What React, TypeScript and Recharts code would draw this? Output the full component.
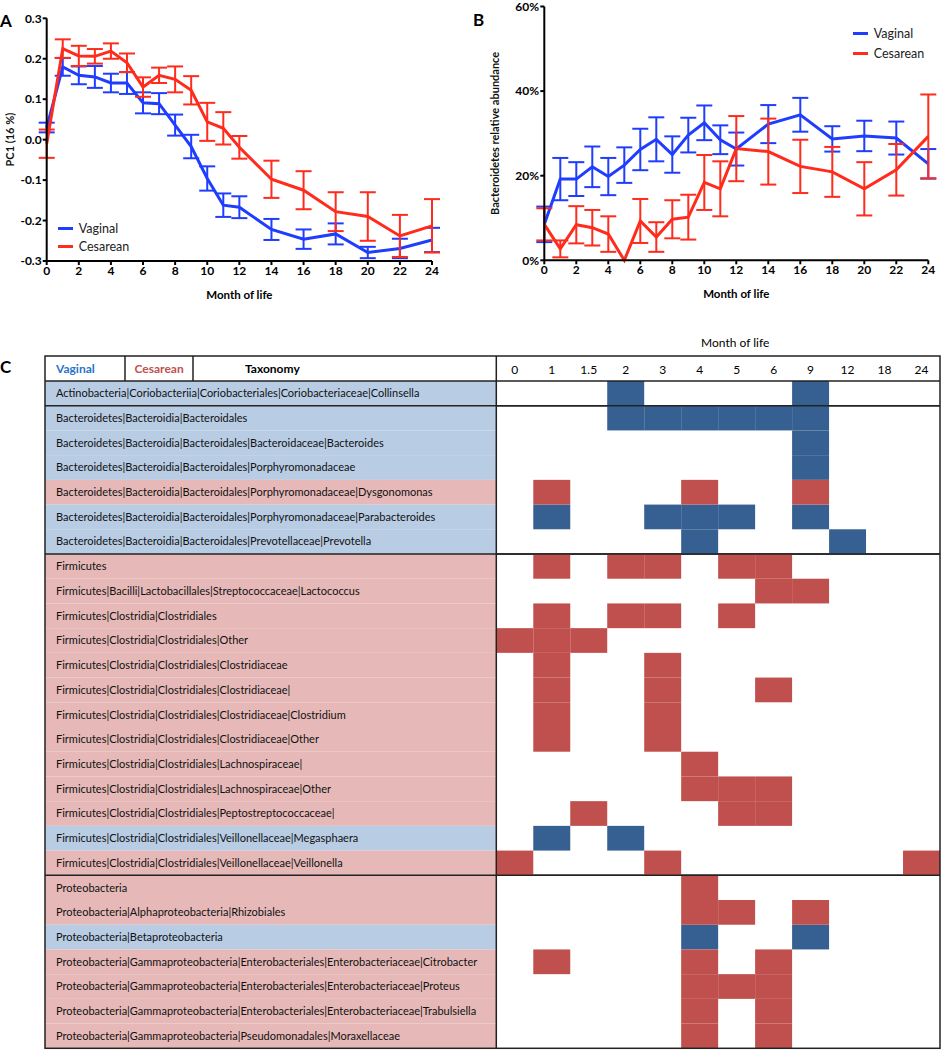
import {
  LineChart,
  Line,
  XAxis,
  YAxis,
  ErrorBar,
  Legend,
  ScatterChart,
  Scatter,
  ReferenceLine,
} from "recharts";

const FONT = "Lato, 'Open Sans', sans-serif";
const BLUE = "#1f3dff";
const RED = "#ff2b1c";
const CELL_BLUE = "#376092";
const CELL_RED = "#c0504d";
const ROW_BLUE = "#b8cce4";
const ROW_RED = "#e6b9b8";

/** 월령 (A, B 공통 x값) */
const months = [0, 1, 2, 3, 4, 5, 6, 7, 8, 9, 10, 11, 12, 14, 16, 18, 20, 22, 24];
const monthTicks = [0, 2, 4, 6, 8, 10, 12, 14, 16, 18, 20, 22, 24];
const seriesOrder = ["Vaginal", "Cesarean"];

/** A: PC1 평균 / 표준오차 */
const pcVaginal = [0.03, 0.18, 0.159, 0.155, 0.14, 0.14, 0.091, 0.089, 0.036, -0.017, -0.096, -0.162, -0.167, -0.222, -0.246, -0.233, -0.279, -0.269, -0.248];
const pcVaginalErr = [0.012, 0.022, 0.022, 0.027, 0.023, 0.027, 0.026, 0.026, 0.026, 0.029, 0.03, 0.029, 0.027, 0.026, 0.024, 0.026, 0.014, 0.024, 0.03];
const pcCesarean = [-0.01, 0.225, 0.207, 0.206, 0.219, 0.19, 0.13, 0.159, 0.149, 0.122, 0.044, 0.028, -0.019, -0.098, -0.125, -0.178, -0.19, -0.238, -0.213];
const pcCesareanErr = [0.035, 0.023, 0.025, 0.018, 0.019, 0.023, 0.024, 0.019, 0.032, 0.035, 0.047, 0.04, 0.028, 0.046, 0.047, 0.048, 0.06, 0.052, 0.066];
const pcTicks = [-0.3, -0.2, -0.1, 0, 0.1, 0.2, 0.3];

/** B: Bacteroidetes 상대 풍부도 (%) */
const bacVaginal = [8.5, 19.2, 19.2, 22.1, 19.8, 22.5, 26.2, 28.6, 25.0, 29.6, 32.5, 28.5, 26.3, 32.2, 34.4, 28.7, 29.4, 28.9, 22.8];
const bacVaginalErr = [4.2, 5.0, 4.0, 4.8, 4.4, 4.2, 4.9, 5.2, 4.3, 4.1, 4.1, 3.4, 3.9, 4.5, 4.0, 3.0, 3.6, 3.9, 3.5];
const bacCesarean = [8.5, 2.7, 8.4, 7.7, 6.2, 0, 9.3, 5.5, 9.7, 10.2, 18.4, 16.9, 26.4, 25.7, 22.2, 20.9, 16.9, 21.4, 29.3];
const bacCesareanErr = [3.8, 2.0, 4.4, 4.2, 4.2, 0, 5.2, 3.5, 4.5, 5.3, 6.5, 6.5, 7.7, 7.8, 6.3, 5.9, 6.3, 6.1, 9.9];
const bacTicks = [0, 20, 40, 60];

/** C: 히트맵 */
const heatMonths = ["0", "1", "1.5", "2", "3", "4", "5", "6", "9", "12", "18", "24"];
const taxa = [
  "Actinobacteria|Coriobacteriia|Coriobacteriales|Coriobacteriaceae|Collinsella",
  "Bacteroidetes|Bacteroidia|Bacteroidales",
  "Bacteroidetes|Bacteroidia|Bacteroidales|Bacteroidaceae|Bacteroides",
  "Bacteroidetes|Bacteroidia|Bacteroidales|Porphyromonadaceae",
  "Bacteroidetes|Bacteroidia|Bacteroidales|Porphyromonadaceae|Dysgonomonas",
  "Bacteroidetes|Bacteroidia|Bacteroidales|Porphyromonadaceae|Parabacteroides",
  "Bacteroidetes|Bacteroidia|Bacteroidales|Prevotellaceae|Prevotella",
  "Firmicutes",
  "Firmicutes|Bacilli|Lactobacillales|Streptococcaceae|Lactococcus",
  "Firmicutes|Clostridia|Clostridiales",
  "Firmicutes|Clostridia|Clostridiales|Other",
  "Firmicutes|Clostridia|Clostridiales|Clostridiaceae",
  "Firmicutes|Clostridia|Clostridiales|Clostridiaceae|",
  "Firmicutes|Clostridia|Clostridiales|Clostridiaceae|Clostridium",
  "Firmicutes|Clostridia|Clostridiales|Clostridiaceae|Other",
  "Firmicutes|Clostridia|Clostridiales|Lachnospiraceae|",
  "Firmicutes|Clostridia|Clostridiales|Lachnospiraceae|Other",
  "Firmicutes|Clostridia|Clostridiales|Peptostreptococcaceae|",
  "Firmicutes|Clostridia|Clostridiales|Veillonellaceae|Megasphaera",
  "Firmicutes|Clostridia|Clostridiales|Veillonellaceae|Veillonella",
  "Proteobacteria",
  "Proteobacteria|Alphaproteobacteria|Rhizobiales",
  "Proteobacteria|Betaproteobacteria",
  "Proteobacteria|Gammaproteobacteria|Enterobacteriales|Enterobacteriaceae|Citrobacter",
  "Proteobacteria|Gammaproteobacteria|Enterobacteriales|Enterobacteriaceae|Proteus",
  "Proteobacteria|Gammaproteobacteria|Enterobacteriales|Enterobacteriaceae|Trabulsiella",
  "Proteobacteria|Gammaproteobacteria|Pseudomonadales|Moraxellaceae",
];
/** V = 자연분만 쪽에 많음, C = 제왕절개 쪽에 많음 */
const taxaGroup = ["V", "V", "V", "V", "C", "V", "V", "C", "C", "C", "C", "C", "C", "C", "C", "C", "C", "C", "V", "C", "C", "C", "V", "C", "C", "C", "C"];
/** 행별로 유의한 월령 칸 (heatMonths 인덱스) */
const enrichedCols = [
  [3, 8],
  [3, 4, 5, 6, 7, 8],
  [8],
  [8],
  [1, 5, 8],
  [1, 4, 5, 6, 8],
  [5, 9],
  [1, 3, 4, 6, 7],
  [7, 8],
  [1, 3, 4, 6],
  [0, 1, 2],
  [1, 4],
  [1, 4, 7],
  [1, 4],
  [1, 4],
  [5],
  [5, 6, 7],
  [2, 6, 7],
  [1, 3],
  [0, 4, 11],
  [5],
  [5, 6, 8],
  [5, 8],
  [1, 5, 7],
  [5, 6, 7],
  [5, 7],
  [5, 7],
];
const groupStarts = [1, 7, 20];

const pcData = months.map((m, i) => ({
  month: m,
  vaginal: pcVaginal[i],
  vaginalErr: pcVaginalErr[i],
  cesarean: pcCesarean[i],
  cesareanErr: pcCesareanErr[i],
}));
const bacData = months.map((m, i) => ({
  month: m,
  vaginal: bacVaginal[i],
  vaginalErr: bacVaginalErr[i],
  cesarean: bacCesarean[i],
  cesareanErr: bacCesareanErr[i],
}));
const cellsOf = (g: string) =>
  enrichedCols.flatMap((cols, r) =>
    taxaGroup[r] === g ? cols.map((c) => ({ col: c + 0.5, row: r + 0.5 })) : []
  );
const vaginalCells = cellsOf("V");
const cesareanCells = cellsOf("C");

// 히트맵 레이아웃
const HM_TOP = 330;
const HM_H = 720;
const PLOT_TOP = 51;
const PLOT_BOTTOM = 1.7;
const PLOT_LEFT = 496.3;
const PLOT_RIGHT = 940;
const ROW_H = (HM_H - PLOT_TOP - PLOT_BOTTOM) / taxa.length;
const CELL_W = (PLOT_RIGHT - PLOT_LEFT) / heatMonths.length;

const tickStyle = { fill: "#000", fontSize: 12, fontWeight: 700, fontFamily: FONT };
const axisStyle = { stroke: "#000", strokeWidth: 2 };

/** 범례: Vaginal, Cesarean 순서 유지 */
const renderLegend = (rowH: number) => (props: any) => {
  const items = [...(props.payload || [])].sort(
    (a: any, b: any) => seriesOrder.indexOf(a.value) - seriesOrder.indexOf(b.value)
  );
  return (
    <div style={{ fontFamily: FONT, fontSize: 12.5, color: "#222" }}>
      {items.map((entry: any) => (
        <div key={entry.value} style={{ display: "flex", alignItems: "center", height: rowH }}>
          <span style={{ width: 15, height: 3, background: entry.color, marginRight: 6 }} />
          <span>{entry.value}</span>
        </div>
      ))}
    </div>
  );
};

const TaxonTick = (props: any) => {
  const { y, index } = props;
  const top = y - ROW_H / 2;
  return (
    <g>
      <rect x={45} y={top} width={PLOT_LEFT - 45} height={ROW_H} fill={taxaGroup[index] === "V" ? ROW_BLUE : ROW_RED} />
      <text x={56} y={y} dy="0.35em" fontSize={11} fontFamily={FONT} fill="#111">
        {taxa[index]}
      </text>
      {groupStarts.includes(index) && (
        <line x1={45} x2={PLOT_RIGHT} y1={top} y2={top} stroke="#222" strokeWidth={1.5} />
      )}
    </g>
  );
};

const CellRect = (props: any) => (
  <rect x={props.cx - CELL_W / 2} y={props.cy - ROW_H / 2} width={CELL_W} height={ROW_H} fill={props.fill} />
);

const panelLabel = (text: string, left: number, top: number) => (
  <div style={{ position: "absolute", left, top, fontFamily: FONT, fontWeight: 700, fontSize: 17, lineHeight: "17px" }}>
    {text}
  </div>
);

const App = () => {
  return (
    <div style={{ position: "absolute", left: 0, top: 0, width: 941, height: 1050, background: "#fff" }}>
      {/* A */}
      <div style={{ position: "absolute", left: 0, top: 0 }}>
        <LineChart width={440} height={320} data={pcData} margin={{ top: 18.3, right: 8, bottom: 29, left: 6.7 }}>
          <XAxis
            dataKey="month"
            type="number"
            domain={[0, 24]}
            ticks={monthTicks}
            interval={0}
            height={30}
            tick={tickStyle}
            tickSize={4}
            tickMargin={1}
            axisLine={axisStyle}
            tickLine={axisStyle}
            label={{ value: "Month of life", position: "bottom", offset: 0, style: { fontFamily: FONT, fontWeight: 700, fontSize: 11.5, fill: "#000" } }}
          />
          <YAxis
            type="number"
            domain={[-0.3, 0.3]}
            ticks={pcTicks}
            interval={0}
            width={40}
            tick={tickStyle}
            tickSize={4}
            tickMargin={1}
            axisLine={axisStyle}
            tickLine={axisStyle}
            tickFormatter={(v: number) => v.toFixed(1)}
            label={{ value: "PC1 (16 %)", angle: -90, position: "insideLeft", offset: 3, style: { textAnchor: "middle", fontFamily: FONT, fontWeight: 700, fontSize: 11, fill: "#111" } }}
          />
          <Legend
            layout="vertical"
            align="center"
            verticalAlign="middle"
            wrapperStyle={{ left: 57.7, top: 219.5, width: "auto" }}
            content={renderLegend(18.3)}
          />
          <Line type="linear" dataKey="vaginal" name="Vaginal" stroke={BLUE} strokeWidth={3} dot={false} isAnimationActive={false}>
            <ErrorBar dataKey="vaginalErr" width={8} stroke={BLUE} strokeWidth={2} direction="y" />
          </Line>
          <Line type="linear" dataKey="cesarean" name="Cesarean" stroke={RED} strokeWidth={3} dot={false} isAnimationActive={false}>
            <ErrorBar dataKey="cesareanErr" width={8} stroke={RED} strokeWidth={2} direction="y" />
          </Line>
        </LineChart>
      </div>

      {/* B */}
      <div style={{ position: "absolute", left: 440, top: 0 }}>
        <LineChart width={501} height={320} data={bacData} margin={{ top: 6.5, right: 12.7, bottom: 29.7, left: 44.3 }}>
          <XAxis
            dataKey="month"
            type="number"
            domain={[0, 24]}
            ticks={monthTicks}
            interval={0}
            height={30}
            tick={tickStyle}
            tickSize={4}
            tickMargin={1}
            axisLine={axisStyle}
            tickLine={axisStyle}
            label={{ value: "Month of life", position: "bottom", offset: 0, style: { fontFamily: FONT, fontWeight: 700, fontSize: 11.5, fill: "#000" } }}
          />
          <YAxis
            type="number"
            domain={[0, 60]}
            ticks={bacTicks}
            interval={0}
            width={60}
            tick={tickStyle}
            tickSize={4}
            tickMargin={1.3}
            axisLine={axisStyle}
            tickLine={axisStyle}
            tickFormatter={(v: number) => `${v}%`}
            label={{ value: "Bacteroidetes relative abundance", angle: -90, position: "insideLeft", offset: 10.7, style: { textAnchor: "middle", fontFamily: FONT, fontWeight: 700, fontSize: 11, fill: "#111" } }}
          />
          <Legend
            layout="vertical"
            align="center"
            verticalAlign="middle"
            wrapperStyle={{ left: 412.7, top: 24, width: "auto" }}
            content={renderLegend(19.4)}
          />
          <Line type="linear" dataKey="vaginal" name="Vaginal" stroke={BLUE} strokeWidth={3} dot={false} isAnimationActive={false}>
            <ErrorBar dataKey="vaginalErr" width={8} stroke={BLUE} strokeWidth={2} direction="y" />
          </Line>
          <Line type="linear" dataKey="cesarean" name="Cesarean" stroke={RED} strokeWidth={3} dot={false} isAnimationActive={false}>
            <ErrorBar dataKey="cesareanErr" width={8} stroke={RED} strokeWidth={2} direction="y" />
          </Line>
        </LineChart>
      </div>

      {/* C */}
      <div style={{ position: "absolute", left: 0, top: HM_TOP }}>
        <ScatterChart
          width={941}
          height={HM_H}
          margin={{ top: PLOT_TOP - 25, right: 941 - PLOT_RIGHT, bottom: PLOT_BOTTOM, left: 45 }}
        >
          <XAxis
            dataKey="col"
            type="number"
            orientation="top"
            domain={[0, heatMonths.length]}
            ticks={heatMonths.map((_, i) => i + 0.5)}
            interval={0}
            height={25}
            axisLine={false}
            tickLine={false}
            tickSize={6}
            tickMargin={1}
            tick={{ fill: "#000", fontSize: 12, fontFamily: FONT }}
            tickFormatter={(v: number) => heatMonths[Math.floor(v)]}
            label={{ value: "Month of life", position: "top", offset: 9, dx: 17, style: { fontFamily: FONT, fontSize: 12, fill: "#000" } }}
          />
          <YAxis
            dataKey="row"
            type="number"
            reversed
            domain={[0, taxa.length]}
            ticks={taxa.map((_, i) => i + 0.5)}
            interval={0}
            width={PLOT_LEFT - 45}
            axisLine={false}
            tickLine={false}
            tick={<TaxonTick />}
          />
          <Scatter name="Vaginal" data={vaginalCells} fill={CELL_BLUE} shape={<CellRect />} isAnimationActive={false} />
          <Scatter name="Cesarean" data={cesareanCells} fill={CELL_RED} shape={<CellRect />} isAnimationActive={false} />
          {groupStarts.map((g) => (
            <ReferenceLine key={g} y={g} stroke="#222" strokeWidth={1.5} />
          ))}
        </ScatterChart>
      </div>

      {/* 표 머리와 테두리 */}
      <svg width={941} height={1050} style={{ position: "absolute", left: 0, top: 0, pointerEvents: "none" }}>
        <rect x={45} y={356} width={PLOT_RIGHT - 45} height={HM_H + HM_TOP - PLOT_BOTTOM - 356} fill="none" stroke="#222" strokeWidth={1.5} />
        <line x1={45} x2={PLOT_RIGHT} y1={381} y2={381} stroke="#222" strokeWidth={1.5} />
        <line x1={125} x2={125} y1={356} y2={381} stroke="#222" strokeWidth={1.5} />
        <line x1={193} x2={193} y1={356} y2={381} stroke="#222" strokeWidth={1.5} />
        <line x1={PLOT_LEFT} x2={PLOT_LEFT} y1={356} y2={HM_H + HM_TOP - PLOT_BOTTOM} stroke="#222" strokeWidth={1.5} />
        <text x={56} y={368.5} dy="0.35em" fontFamily={FONT} fontWeight={700} fontSize={12} fill="#2a73c8">Vaginal</text>
        <text x={134.5} y={368.5} dy="0.35em" fontFamily={FONT} fontWeight={700} fontSize={12} fill={CELL_RED}>Cesarean</text>
        <text x={245} y={368.5} dy="0.35em" fontFamily={FONT} fontWeight={700} fontSize={12} fill="#000">Taxonomy</text>
      </svg>

      {panelLabel("A", 0, 12)}
      {panelLabel("B", 473, 11)}
      {panelLabel("C", 0, 358)}
    </div>
  );
};

export default App;
